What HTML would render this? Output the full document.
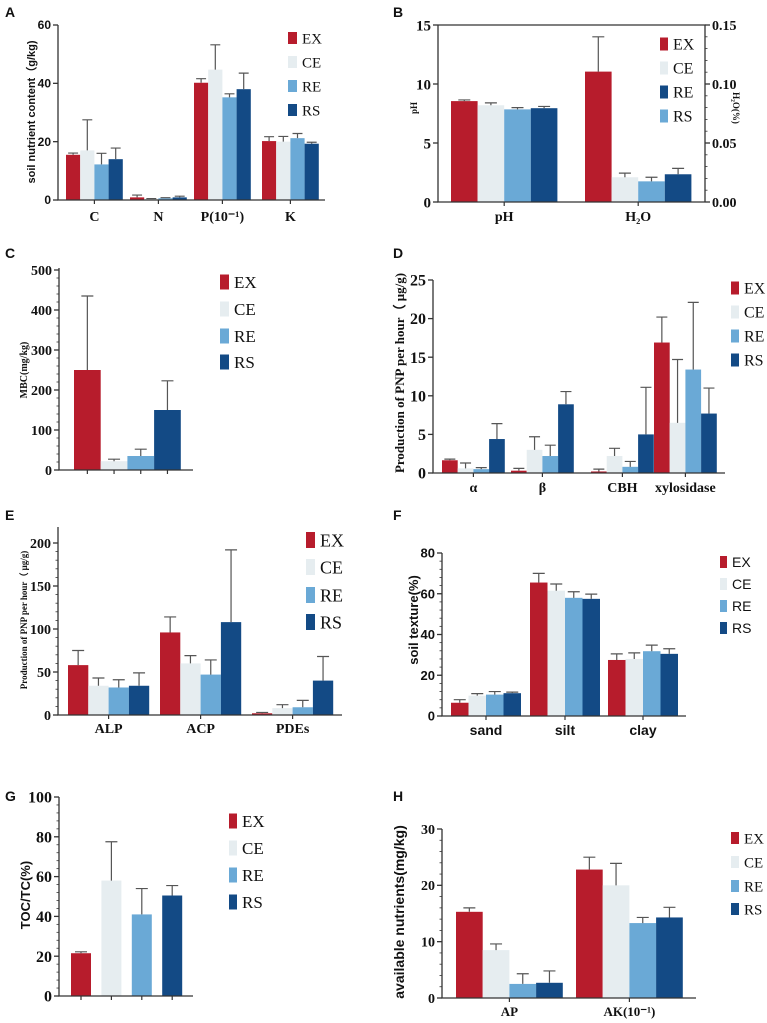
<!DOCTYPE html>
<html><head><meta charset="utf-8"><style>
html,body{margin:0;padding:0;background:#fff;}
svg{display:block;}
</style></head><body>
<svg id="fig" xmlns="http://www.w3.org/2000/svg" width="767" height="1023" viewBox="0 0 767 1023">
<rect width="767" height="1023" fill="#fff"/>
</svg>
<script>
const seriesNames = ["EX","CE","RE","RS"];
const seriesColors = ["#b71c2c","#e6edf0","#6aa9d6","#134a85"];

const aCats = ["C","N","P(10⁻¹)","K"];
const aMeans = [[15.5,0.9,40.2,20.2],[17,0.4,44.7,20],[12.2,0.6,35.2,21.2],[14,0.9,38,19.3]];
const aErr = [[0.6,0.8,1.4,1.5],[10.5,0.1,8.5,1.8],[3.8,0.2,1.2,1.6],[3.8,0.4,5.5,0.5]];
const aTicks = [0,20,40,60];

const bCats = ["pH","H₂O"];
const bMeans = [[8.55,11.05],[8.2,2.1],[7.85,1.75],[7.95,2.35]];
const bErr = [[0.1,2.95],[0.2,0.35],[0.15,0.35],[0.15,0.5]];
const bTicks = [0,5,10,15];
const bRightTicks = ["0.00","0.05","0.10","0.15"];

const cCats = [""];
const cMeans = [[250],[22],[35],[150]];
const cErr = [[185],[5],[17],[73]];
const cTicks = [0,100,200,300,400,500];

const dCats = ["α","β","CBH","xylosidase"];
const dMeans = [[1.65,0.3,0.2,16.9],[0.6,3,2.2,6.5],[0.5,2.2,0.8,13.4],[4.4,8.9,5,7.7]];
const dErr = [[0.15,0.3,0.3,3.3],[0.7,1.7,1,8.2],[0.2,1.4,0.7,8.7],[2,1.65,6.1,3.3]];
const dTicks = [0,5,10,15,20,25];

const eCats = ["ALP","ACP","PDEs"];
const eMeans = [[58,96,2],[34,60,8],[32,47,9],[34,108,40]];
const eErr = [[17,18,1],[9,9,4],[9,17,8],[15,84,28]];
const eTicks = [0,50,100,150,200];

const fCats = ["sand","silt","clay"];
const fMeans = [[6.5,65.5,27.5],[10,61.5,28],[10.5,58,31.8],[11.2,57.5,30.5]];
const fErr = [[1.5,4.5,3],[1,3.3,3],[1.5,3,3],[0.5,2.3,2.5]];
const fTicks = [0,20,40,60,80];

const gCats = [""];
const gMeans = [[21.5],[58],[41],[50.5]];
const gErr = [[0.7],[19.5],[13],[5]];
const gTicks = [0,20,40,60,80,100];

const hCats = ["AP","AK(10⁻¹)"];
const hMeans = [[15.3,22.8],[8.5,20],[2.5,13.3],[2.7,14.3]];
const hErr = [[0.7,2.2],[1.1,3.9],[1.8,1],[2.1,1.8]];
const hTicks = [0,10,20,30];

const NS="http://www.w3.org/2000/svg";
const svg=document.getElementById('fig');
function mk(tag,attrs,parent,text){
  const e=document.createElementNS(NS,tag);
  for(const k in attrs) e.setAttribute(k,attrs[k]);
  if(text!==undefined) e.textContent=text;
  (parent||svg).appendChild(e); return e;
}
const SERIF='"Liberation Serif",serif', SANS='"Liberation Sans",sans-serif';

function panel(p){
  const g=mk('g',{});
  
  
  const y=v=>p.y0-(v-p.min)/(p.max-p.min)*(p.y0-p.y1);
  const gap=p.gap||0;
  const L=mk('text',{x:p.letter[0],y:p.letter[1],'font-family':SANS,'font-weight':'bold','font-size':14,fill:'#111'},g,p.letterText);
  
  
  const nG=p.cats.length;
  for(let s=0;s<4;s++){
    for(let c=0;c<nG;c++){
      const x=p.gx[c]+s*(p.bw+gap);
      const v=p.means[s][c], e=p.err[s][c];
      const r=mk('rect',{x:x,y:y(v),width:p.bw,height:y(p.min)-y(v),fill:seriesColors[s]},g);
      
      
      const cx=x+p.bw/2, ty=y(v+e), cw=Math.min(p.bw*0.35,6);
      const eb=mk('path',{d:`M${cx},${y(v)}V${ty}M${cx-cw},${ty}H${cx+cw}`,stroke:'#555','stroke-width':1.2,fill:'none'},g);
      
      
      if(p.perBarTicks) mk('line',{x1:cx,x2:cx,y1:p.y0,y2:p.y0+4,stroke:'#333','stroke-width':1.2},g);
    }
  }
  const ax=mk('path',{d:`M${p.x0},${p.yTop}V${p.y0}H${p.x1}`,stroke:'#333','stroke-width':1.3,fill:'none'},g);
  
  
  if(p.minor){
    const step=(p.ticks[1]-p.ticks[0])/p.minor;
    for(let v=p.min;v<=p.max+1e-9;v+=step){
      mk('line',{x1:p.x0-2.5,x2:p.x0,y1:y(v),y2:y(v),stroke:'#333','stroke-width':0.8},g);
    }
  }
  p.ticks.forEach(t=>{
    mk('line',{x1:p.x0-5,x2:p.x0,y1:y(t),y2:y(t),stroke:'#333','stroke-width':1.3},g);
    const tl=mk('text',{x:p.x0-7,y:y(t)+p.tfs*0.35,'text-anchor':'end','font-family':p.tfont,'font-weight':'bold','font-size':p.tfs,fill:'#111'},g,t);
    
    
  });
  if(!p.perBarTicks){
    for(let c=0;c<nG;c++){
      const cx=p.gx[c]+2*p.bw;
      mk('line',{x1:cx,x2:cx,y1:p.y0,y2:p.y0+4,stroke:'#333','stroke-width':1.2},g);
      const xl=mk('text',{x:cx,y:p.xly,'text-anchor':'middle','font-family':p.xfont,'font-weight':'bold','font-size':p.xfs,fill:'#111'},g,p.cats[c]);
      
      
    }
  }
  const yl=mk('text',{x:0,y:0,transform:`translate(${p.ylx},${p.yly}) rotate(-90)`,'text-anchor':'middle','font-family':p.ylfont,'font-weight':'bold','font-size':p.ylfs,fill:'#111'},g,p.ylabel);
  
  
  const names=p.legNames||seriesNames, cols=p.legColors||seriesColors;
  for(let s=0;s<4;s++){
    const ly=p.leg.y[s];
    const lg=mk('g',{},g);
    
    
    mk('rect',{x:p.leg.x,y:ly-p.leg.h/2,width:p.leg.w,height:p.leg.h,fill:cols[s]},lg);
    mk('text',{x:p.leg.x+p.leg.w+5,y:ly+p.leg.fs*0.35,'font-family':p.leg.font,'font-size':p.leg.fs,fill:'#111'},lg,names[s]);
  }
  return {g,y};
}

panel({name:'panel-a-soil-nutrients',letterText:'A',letter:[5,17],cats:aCats,means:aMeans,err:aErr,ticks:aTicks,min:0,max:60,
  x0:58,x1:325,y0:200,y1:25,yTop:25,gx:[66,130,194,262],bw:14.2,tfont:SANS,tfs:12,xfont:SERIF,xfs:14,xly:221,
  ylabel:'soil nutrient content（g/kg)',ylfont:SANS,ylfs:11,ylx:35,yly:112,
  leg:{x:288,y:[38,62,86,110],w:9,h:12,fs:15,font:SERIF}});

const pb=panel({name:'panel-b-ph-water',letterText:'B',letter:[393,17],cats:bCats,means:bMeans,err:bErr,ticks:bTicks,min:0,max:15,
  x0:438,x1:705,y0:202,y1:25,yTop:25,gx:[451,585],bw:26.6,tfont:SERIF,tfs:15,xfont:SERIF,xfs:14,xly:221,
  ylabel:'pH',ylfont:SERIF,ylfs:9,ylx:417,yly:108,
  legNames:["EX","CE","RE","RS"],legColors:[seriesColors[0],seriesColors[1],seriesColors[3],seriesColors[2]],
  leg:{x:660,y:[44,68,92,116],w:8,h:13,fs:16,font:SERIF}});
(function(){
  const g=pb.g;
  mk('path',{d:'M438,25H705V202',stroke:'#333','stroke-width':1.3,fill:'none'},g);
  for(let i=0;i<=15;i++){const yy=pb.y(i);mk('line',{x1:705,x2:i%5==0?710:707.5,y1:yy,y2:yy,stroke:'#333','stroke-width':i%5==0?1.3:0.8},g);}
  bRightTicks.forEach((t,i)=>{const tl=mk('text',{x:712,y:pb.y(i*5)+5,'font-family':SERIF,'font-weight':'bold','font-size':14,fill:'#111'},g,t);
    
    });
  const rl=mk('text',{x:0,y:0,transform:'translate(733,108) rotate(90)','text-anchor':'middle','font-family':SERIF,'font-weight':'bold','font-size':9,fill:'#111'},g,'H₂O(%)');
  
  
})();

panel({name:'panel-c-mbc',letterText:'C',letter:[5,258],cats:cCats,means:cMeans,err:cErr,ticks:cTicks,min:0,max:500,minor:5,perBarTicks:true,
  x0:59,x1:193,y0:470,y1:270,yTop:268,gx:[74],bw:26.7,tfont:SERIF,tfs:14,xfont:SERIF,xfs:14,xly:490,
  ylabel:'MBC(mg/kg)',ylfont:SERIF,ylfs:10,ylx:27,yly:370,
  leg:{x:220,y:[282,309,336,362],w:9,h:15,fs:17,font:SERIF}});

panel({name:'panel-d-glycosidases',letterText:'D',letter:[393,258],cats:dCats,means:dMeans,err:dErr,ticks:dTicks,min:0,max:25,
  x0:433,x1:725,y0:473,y1:280,yTop:280,gx:[442,511,591,654],bw:15.7,tfont:SERIF,tfs:16,xfont:SERIF,xfs:14,xly:492,
  ylabel:'Production of PNP per hour（ μg/g)',ylfont:SERIF,ylfs:13,ylx:404,yly:373,
  leg:{x:731,y:[288,312,336,360],w:8,h:13,fs:16,font:SERIF}});

panel({name:'panel-e-phosphatases',letterText:'E',letter:[5,520],cats:eCats,means:eMeans,err:eErr,ticks:eTicks,min:0,max:200,minor:5,
  x0:58,x1:342,y0:715,y1:543,yTop:527,gx:[68,160,252],bw:20.3,tfont:SERIF,tfs:14,xfont:SERIF,xfs:14,xly:733,
  ylabel:'Production of PNP per hour（ μg/g)',ylfont:SERIF,ylfs:9,ylx:27,yly:620,
  leg:{x:306,y:[540,567,595,622],w:9,h:16,fs:18,font:SERIF}});

panel({name:'panel-f-soil-texture',letterText:'F',letter:[393,520],cats:fCats,means:fMeans,err:fErr,ticks:fTicks,min:0,max:80,minor:5,
  x0:442,x1:686,y0:716,y1:553,yTop:553,gx:[451,530,608],bw:17.5,tfont:SANS,tfs:13,xfont:SANS,xfs:14,xly:735,
  ylabel:'soil texture(%)',ylfont:SANS,ylfs:13,ylx:418,yly:620,
  leg:{x:720,y:[562,584,606,628],w:7,h:12,fs:14,font:SANS}});

panel({name:'panel-g-toc-tc',letterText:'G',letter:[5,801],cats:gCats,means:gMeans,err:gErr,ticks:gTicks,min:0,max:100,minor:5,perBarTicks:true,
  x0:59,x1:193,y0:996,y1:797,yTop:797,gx:[71],bw:20,gap:10.4,tfont:SERIF,tfs:16,xfont:SERIF,xfs:14,xly:1015,
  ylabel:'TOC/TC(%)',ylfont:SANS,ylfs:13,ylx:30,yly:895,
  leg:{x:229,y:[821,848,875,902],w:8,h:15,fs:17,font:SERIF}});

panel({name:'panel-h-available-nutrients',letterText:'H',letter:[393,801],cats:hCats,means:hMeans,err:hErr,ticks:hTicks,min:0,max:30,minor:5,
  x0:442,x1:696,y0:998,y1:829,yTop:829,gx:[456,576],bw:26.7,tfont:SERIF,tfs:14,xfont:SERIF,xfs:13,xly:1016,
  ylabel:'available nutrients(mg/kg)',ylfont:SANS,ylfs:14,ylx:404,yly:912,
  leg:{x:731,y:[838,862,886,909],w:8,h:12,fs:15,font:SERIF}});
</script>
</body></html>
